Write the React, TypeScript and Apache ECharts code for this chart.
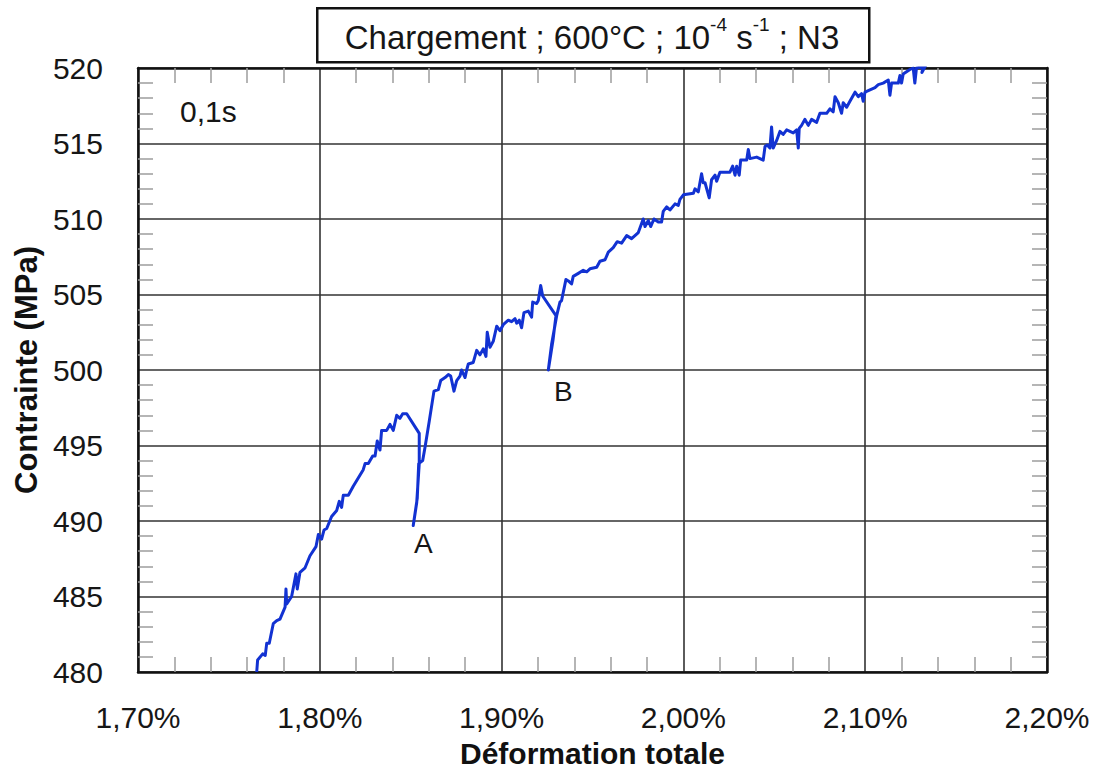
import React, { useEffect, useRef } from "react";
import * as echarts from "echarts";

// Total strain (%) and stress (MPa) along the loading curve, in acquisition order
const strain = [
  1.7653, 1.7658, 1.7686, 1.77, 1.7708, 1.7722, 1.7744, 1.7763, 1.7781, 1.7809,
  1.7814, 1.7818, 1.7845, 1.7869, 1.7876, 1.7891, 1.7919, 1.7946, 1.7979, 1.7992,
  1.801, 1.8023, 1.8038, 1.8065, 1.8093, 1.8107, 1.812, 1.8129, 1.8157, 1.8184,
  1.8239, 1.8249, 1.8267, 1.8291, 1.8304, 1.8316, 1.8331, 1.834, 1.8368, 1.8386,
  1.8404, 1.8423, 1.8441, 1.8456, 1.8478, 1.8547, 1.8547, 1.8533, 1.8514, 1.8536,
  1.8544, 1.8566, 1.8579, 1.8602, 1.8628, 1.8652, 1.8665, 1.8689, 1.8707, 1.872,
  1.8738, 1.8753, 1.8771, 1.878, 1.8799, 1.8808, 1.8817, 1.8844, 1.8863, 1.8881,
  1.8899, 1.8914, 1.8921, 1.8936, 1.8954, 1.8973, 1.8991, 1.9009, 1.9037, 1.9055,
  1.9074, 1.9083, 1.9097, 1.911, 1.9123, 1.9147, 1.9165, 1.9171, 1.9193, 1.9202,
  1.9215, 1.9226, 1.9299, 1.9283, 1.9257, 1.9275, 1.9303, 1.9321, 1.933, 1.9354,
  1.9367, 1.9385, 1.9394, 1.9422, 1.9449, 1.9468, 1.9486, 1.9523, 1.9541, 1.9569,
  1.9587, 1.9614, 1.9636, 1.966, 1.9688, 1.9715, 1.9752, 1.9779, 1.9789, 1.9807,
  1.982, 1.9838, 1.9862, 1.988, 1.9889, 1.9908, 1.9926, 1.9954, 1.9972, 1.9981,
  2.0, 2.0055, 2.0064, 2.0082, 2.01, 2.0109, 2.0119, 2.0142, 2.0155, 2.0174,
  2.0183, 2.0201, 2.0238, 2.0256, 2.0271, 2.0284, 2.0293, 2.0307, 2.0315, 2.0348,
  2.0357, 2.0366, 2.0403, 2.0439, 2.0449, 2.0461, 2.0476, 2.0485, 2.0494, 2.0513,
  2.0531, 2.0549, 2.0568, 2.0604, 2.0623, 2.0632, 2.0637, 2.065, 2.0668, 2.0687,
  2.0705, 2.0733, 2.0751, 2.0788, 2.0806, 2.0824, 2.0834, 2.0852, 2.087, 2.0879,
  2.0898, 2.0916, 2.0944, 2.0962, 2.098, 2.0989, 2.0999, 2.1017, 2.1054, 2.1072,
  2.1099, 2.1127, 2.1136, 2.1145, 2.1182, 2.1191, 2.12, 2.1209, 2.1246, 2.1264,
  2.1273, 2.1282, 2.1319, 2.1312, 2.1334,
];

const stress = [
  480.0, 480.8, 481.2, 481.1, 481.9, 481.9, 483.2, 483.4, 483.5, 484.3,
  485.5, 484.5, 485.0, 486.5, 485.5, 486.6, 486.9, 487.7, 488.3, 489.1,
  488.8, 489.4, 489.5, 490.3, 490.7, 491.3, 490.9, 491.7, 491.7, 492.3,
  493.4, 493.8, 493.8, 494.3, 494.3, 495.3, 494.7, 496.0, 496.0, 496.4,
  496.0, 497.0, 496.8, 497.1, 497.1, 495.8, 493.8, 491.2, 489.7, 491.5,
  493.8, 494.0, 494.9, 496.6, 498.6, 498.7, 499.3, 499.5, 499.7, 499.6,
  498.6, 499.3, 499.6, 500.0, 499.5, 500.0, 500.4, 500.5, 501.3, 501.0,
  501.4, 500.9, 502.5, 501.5, 501.9, 502.9, 502.6, 503.0, 503.3, 503.2,
  503.4, 503.1, 503.3, 502.8, 503.8, 503.9, 503.5, 504.5, 504.4, 504.6,
  505.6, 504.9, 503.6, 502.0, 500.0, 501.7, 503.6, 504.5, 504.6, 506.0,
  505.9, 505.7, 506.2, 506.4, 506.6, 506.5, 506.7, 506.8, 507.2, 507.3,
  507.8, 508.1, 508.5, 508.4, 508.9, 508.7, 509.1, 510.0, 509.5, 509.9,
  509.5, 510.0, 509.8, 509.8, 510.5, 510.8, 510.6, 511.0, 510.9, 511.3,
  511.6, 511.7, 512.0, 511.8, 513.0, 512.4, 512.4, 511.4, 512.6, 512.9,
  512.5, 513.1, 513.1, 513.1, 513.5, 512.9, 513.5, 512.9, 513.9, 513.9,
  514.6, 514.0, 514.1, 513.9, 514.8, 514.9, 514.7, 516.1, 514.7, 515.2,
  515.8, 515.6, 515.9, 515.7, 515.9, 514.7, 516.0, 516.2, 516.6, 516.2,
  516.6, 516.4, 517.0, 517.0, 517.3, 517.1, 518.1, 517.7, 517.0, 517.7,
  517.4, 517.8, 518.4, 518.1, 518.3, 517.8, 518.4, 518.5, 518.7, 518.9,
  519.0, 519.2, 518.2, 519.0, 519.0, 519.5, 519.0, 519.6, 519.9, 520.0,
  519.0, 520.0, 520.1, 519.7, 520.2,
];

// Relaxation end points marked on the curve
const relaxMarks = [
  { name: "A", index: 48 },
  { name: "B", index: 94 },
];

const xMin = 1.7;
const xMax = 2.2;
const xStep = 0.1;
const yMin = 480;
const yMax = 520;
const yStep = 5;

const titleText = "{m|Chargement ; 600°C ; 10}{s|-4}{m| s}{s|-1}{m| ; N3}";
const holdLabel = "0,1s";

const FONT = "'Liberation Sans', Arial, Helvetica, sans-serif";
const INK = "#161616";

export default function App() {
  const ref = useRef<HTMLDivElement>(null);

  useEffect(() => {
    if (!ref.current) return;
    const chart = echarts.init(ref.current, undefined, { renderer: "svg" });

    const frame = { show: true, onZero: false, lineStyle: { color: "#111", width: 2.5 } };
    const minor = { show: true, splitNumber: 5, length: 15, lineStyle: { color: "#9c9c9c", width: 1.5 } };
    const grid = { show: true, lineStyle: { color: "#333", width: 1.6 } };

    const option: any = {
      animation: false,
      backgroundColor: "#fff",
      textStyle: { fontFamily: FONT },
      grid: { left: 138, right: 51, top: 68, bottom: 99, containLabel: false, outerBoundsMode: "none" },
      xAxis: [
        {
          type: "value",
          position: "bottom",
          min: xMin,
          max: xMax,
          interval: xStep,
          axisLine: frame,
          axisTick: { show: false, inside: true },
          minorTick: minor,
          splitLine: grid,
          axisLabel: {
            fontSize: 30,
            margin: 30,
            color: INK,
            fontFamily: FONT,
            formatter: (v: number) => v.toFixed(2).replace(".", ",") + "%",
          },
          name: "Déformation totale",
          nameLocation: "middle",
          nameGap: 66,
          nameTextStyle: { fontSize: 30, fontWeight: "bold", color: "#111", fontFamily: FONT },
        },
        {
          type: "value",
          position: "top",
          min: xMin,
          max: xMax,
          interval: xStep,
          axisLine: frame,
          axisTick: { show: false, inside: true },
          minorTick: minor,
          splitLine: { show: false },
          axisLabel: { show: false },
        },
      ],
      yAxis: [
        {
          type: "value",
          position: "left",
          min: yMin,
          max: yMax,
          interval: yStep,
          axisLine: frame,
          axisTick: { show: false, inside: true },
          minorTick: minor,
          splitLine: grid,
          axisLabel: { fontSize: 30, margin: 35, color: INK, fontFamily: FONT },
          name: "Contrainte (MPa)",
          nameLocation: "middle",
          nameGap: 94,
          nameTextStyle: { fontSize: 31, fontWeight: "bold", color: "#111", fontFamily: FONT },
        },
        {
          type: "value",
          position: "right",
          min: yMin,
          max: yMax,
          interval: yStep,
          axisLine: frame,
          axisTick: { show: false, inside: true },
          minorTick: minor,
          splitLine: { show: false },
          axisLabel: { show: false },
        },
      ],
      series: [
        {
          type: "line",
          xAxisIndex: 0,
          yAxisIndex: 0,
          data: strain.map((s, i) => [s, stress[i]]),
          showSymbol: false,
          symbol: "none",
          clip: true,
          lineStyle: { color: "#1232d2", width: 3, join: "round" },
          markPoint: {
            symbol: "circle",
            symbolSize: 1,
            itemStyle: { color: "rgba(0,0,0,0)" },
            label: {
              show: true,
              position: "inside",
              formatter: "{b}",
              fontSize: 28,
              color: INK,
              fontFamily: FONT,
            },
            data: relaxMarks.map((m, k) => ({
              name: m.name,
              coord: [strain[m.index], stress[m.index]],
              label: { offset: k === 0 ? [10, 18] : [15, 21] },
            })),
          },
        },
      ],
      graphic: [
        {
          type: "rect",
          left: 316,
          top: 7,
          shape: { width: 552, height: 54 },
          style: { fill: "#fff", stroke: "#111", lineWidth: 2.5 },
          z: 10,
        },
        {
          type: "text",
          x: 592,
          y: 37,
          z: 11,
          style: {
            text: titleText,
            align: "center",
            verticalAlign: "middle",
            rich: {
              m: { fontSize: 33, lineHeight: 44, fontFamily: FONT, fill: INK, color: INK },
              s: { fontSize: 19, lineHeight: 15, verticalAlign: "top", fontFamily: FONT, fill: INK, color: INK },
            },
          },
        },
        {
          type: "text",
          x: 180,
          y: 111,
          z: 11,
          style: {
            text: holdLabel,
            fontSize: 30,
            fontFamily: FONT,
            fill: INK,
            align: "left",
            verticalAlign: "middle",
          },
        },
      ],
    };

    chart.setOption(option);
    return () => chart.dispose();
  }, []);

  return (
    <div
      ref={ref}
      style={{ position: "fixed", left: 0, top: 0, width: 1098, height: 771, background: "#fff" }}
    />
  );
}
